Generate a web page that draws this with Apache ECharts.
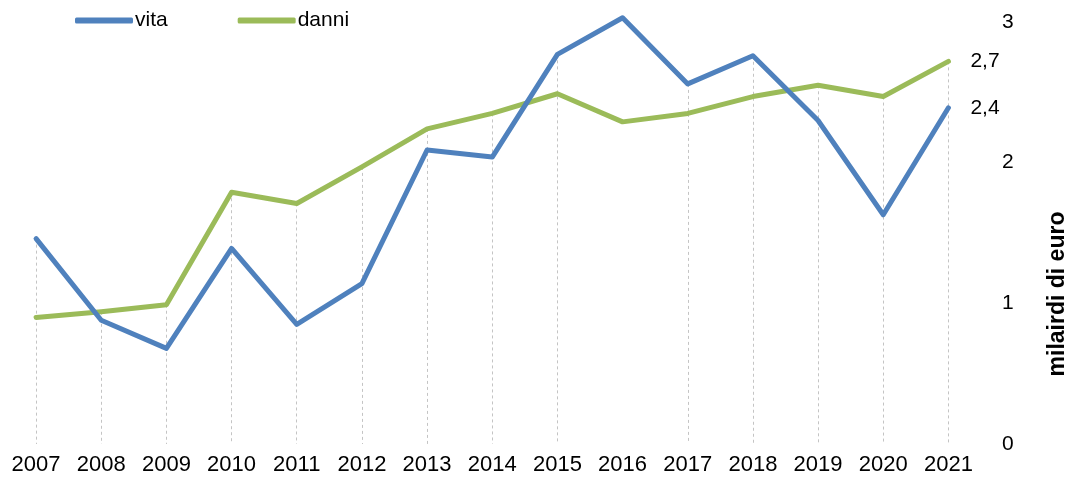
<!DOCTYPE html>
<html>
<head>
<meta charset="utf-8">
<script src="https://cdn.jsdelivr.net/npm/echarts@6/dist/echarts.min.js"></script>
<style>
  html, body { margin: 0; padding: 0; background: #fff; }
  #chart { width: 1073px; height: 483px; }
</style>
</head>
<body>
<div id="chart"></div>
<script>
  // anni
  var years = ['2007','2008','2009','2010','2011','2012','2013','2014','2015','2016','2017','2018','2019','2020','2021'];
  // miliardi di euro
  var vita  = [1.46, 0.88, 0.68, 1.39, 0.85, 1.14, 2.09, 2.04, 2.77, 3.03, 2.56, 2.76, 2.30, 1.63, 2.39];
  var danni = [0.90, 0.94, 0.99, 1.79, 1.71, 1.97, 2.24, 2.35, 2.49, 2.29, 2.35, 2.47, 2.55, 2.47, 2.72];
  var yTicks = [0, 1, 2, 3];

  var font = 'Liberation Sans, Arial, sans-serif';

  // linee verticali dal punto piu' alto fino all'asse
  var dropLines = years.map(function (y, i) {
    return [{coord: [y, Math.max(vita[i], danni[i])]}, {coord: [y, 0]}];
  });

  function fmt(p) {
    return p.value.toFixed(1).replace('.', ',');
  }

  var chart = echarts.init(document.getElementById('chart'));
  chart.setOption({
    animation: false,
    color: ['#4F81BD', '#9BBB59'],
    textStyle: { fontFamily: font, color: '#000' },
    legend: {
      left: 70,
      top: 5,
      itemWidth: 58,
      itemHeight: 6,
      itemGap: 70,
      icon: 'roundRect',
      textStyle: { fontSize: 21, color: '#000', fontFamily: font, padding: [0, 0, 0, -3] },
      data: ['vita', 'danni']
    },
    grid: { left: 3.5, right: 92, top: 22, bottom: 39, containLabel: false },
    xAxis: {
      type: 'category',
      boundaryGap: true,
      data: years,
      axisLine: { show: false },
      axisTick: { show: false },
      splitLine: { show: false },
      axisLabel: { fontSize: 22, color: '#000', margin: 10, fontFamily: font }
    },
    yAxis: {
      type: 'value',
      position: 'right',
      min: yTicks[0],
      max: yTicks[yTicks.length - 1],
      interval: 1,
      axisLine: { show: false },
      axisTick: { show: false },
      splitLine: { show: false },
      axisLabel: { fontSize: 21, color: '#000', margin: 21, fontFamily: font }
    },
    graphic: [{
      type: 'text',
      x: 1058,
      y: 294,
      rotation: Math.PI / 2,
      style: {
        text: 'milairdi di euro',
        fontSize: 23,
        fontWeight: 'bold',
        fontFamily: font,
        fill: '#000',
        align: 'center',
        verticalAlign: 'middle'
      }
    }],
    series: [
      {
        name: 'vita',
        type: 'line',
        data: vita,
        symbol: 'none',
        clip: false,
        z: 3,
        lineStyle: { width: 5, cap: 'round', join: 'round' },
        endLabel: { show: true, formatter: fmt, distance: 22, fontSize: 21, color: '#000', fontFamily: font },
        markLine: {
          silent: true,
          symbol: ['none', 'none'],
          label: { show: false },
          lineStyle: { color: '#c4c4c4', width: 1, type: [3, 3] },
          data: dropLines,
          z: 1
        }
      },
      {
        name: 'danni',
        type: 'line',
        data: danni,
        symbol: 'none',
        clip: false,
        z: 2,
        lineStyle: { width: 5, cap: 'round', join: 'round' },
        endLabel: { show: true, formatter: fmt, distance: 22, fontSize: 21, color: '#000', fontFamily: font }
      }
    ]
  });
</script>
</body>
</html>
